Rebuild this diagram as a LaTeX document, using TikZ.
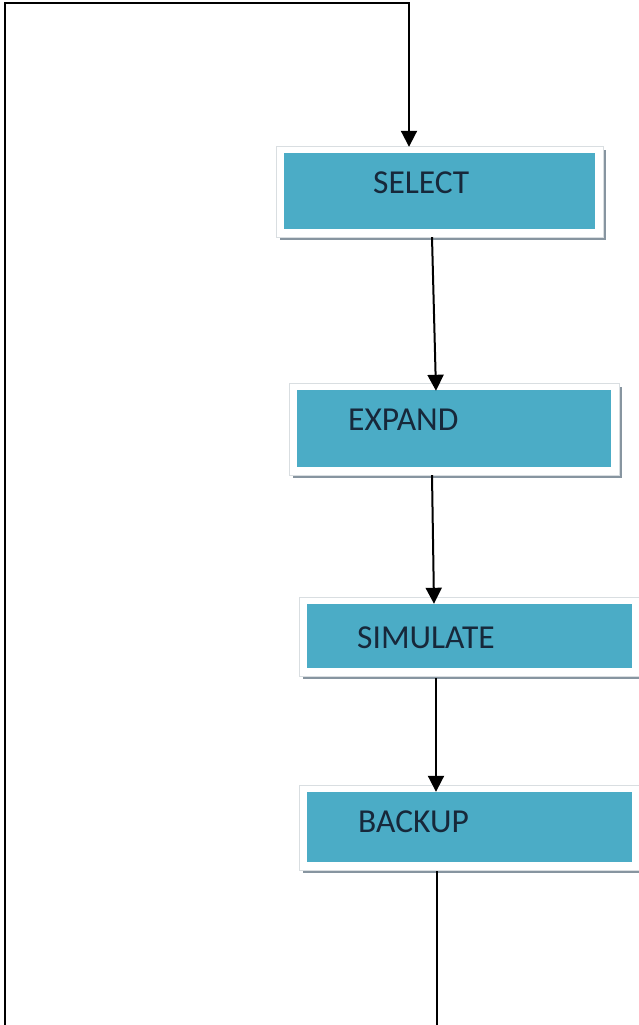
\documentclass[tikz,border=0pt]{standalone}
\usepackage{fontspec}
\setmainfont{Carlito}
\usetikzlibrary{arrows.meta,backgrounds,calc}
\definecolor{boxblue}{HTML}{4BACC6}
\definecolor{framec}{HTML}{D9DEE1}
\definecolor{shadowc}{HTML}{8795A0}
\definecolor{textc}{HTML}{17283A}
\tikzset{
  bluebox/.style={rectangle, fill=boxblue, draw=none, inner sep=0pt},
  lbl/.style={anchor=west, inner sep=0pt, text=textc, font=\fontsize{33.5}{38}\selectfont},
  conn/.style={line width=2pt, draw=black, -{Triangle[width=16pt,length=16pt]}},
  plain/.style={line width=2pt, draw=black}
}
\begin{document}
\begin{tikzpicture}[x=1pt,y=-1pt]
\useasboundingbox (0,0) rectangle (639,1025);
\clip (0,0) rectangle (639,1025);

\node[bluebox, minimum width=311pt, minimum height=76pt] (select) at (439.5,191) {};
\node[bluebox, minimum width=314pt, minimum height=77pt] (expand) at (454,428.5) {};
\node[bluebox, minimum width=325pt, minimum height=64pt] (simulate) at (469.5,636) {};
\node[bluebox, minimum width=325pt, minimum height=70pt] (backup) at (469.5,827) {};

\begin{scope}[on background layer]
\fill[white] (0,0) rectangle (639,1025);
\foreach \n in {select,expand,simulate,backup}{
  \fill[shadowc] ([shift={(-4,-3)}]\n.north west) rectangle ([shift={(11,11)}]\n.south east);
  \filldraw[fill=white, draw=framec, line width=1pt] ([shift={(-7,-6)}]\n.north west) rectangle ([shift={(8,8)}]\n.south east);
}
\end{scope}

\node[lbl] (selectlbl) at (373,183) {SELECT};
\node[lbl] (expandlbl) at (348,420) {EXPAND};
\node[lbl] (simulatelbl) at (357,638) {SIMULATE};
\node[lbl] (backuplbl) at (358,822) {BACKUP};

\coordinate (loopbl) at (5,1045);
\coordinate (looptl) at (5,3);

\draw[conn] ([shift={(-7.5,8)}]select.south) -- ([shift={(-18,1)}]expand.north);
\draw[conn] ([shift={(-22,8)}]expand.south) -- ([shift={(-35.5,0)}]simulate.north);
\draw[conn] ([shift={(-33.5,10)}]simulate.south) -- ([shift={(-33.5,0)}]backup.north);
\draw[conn] ([shift={(-32.5,9)}]backup.south) |- (loopbl) -- (looptl) -| ([shift={(-30.5,-6)}]select.north);
\end{tikzpicture}
\end{document}
